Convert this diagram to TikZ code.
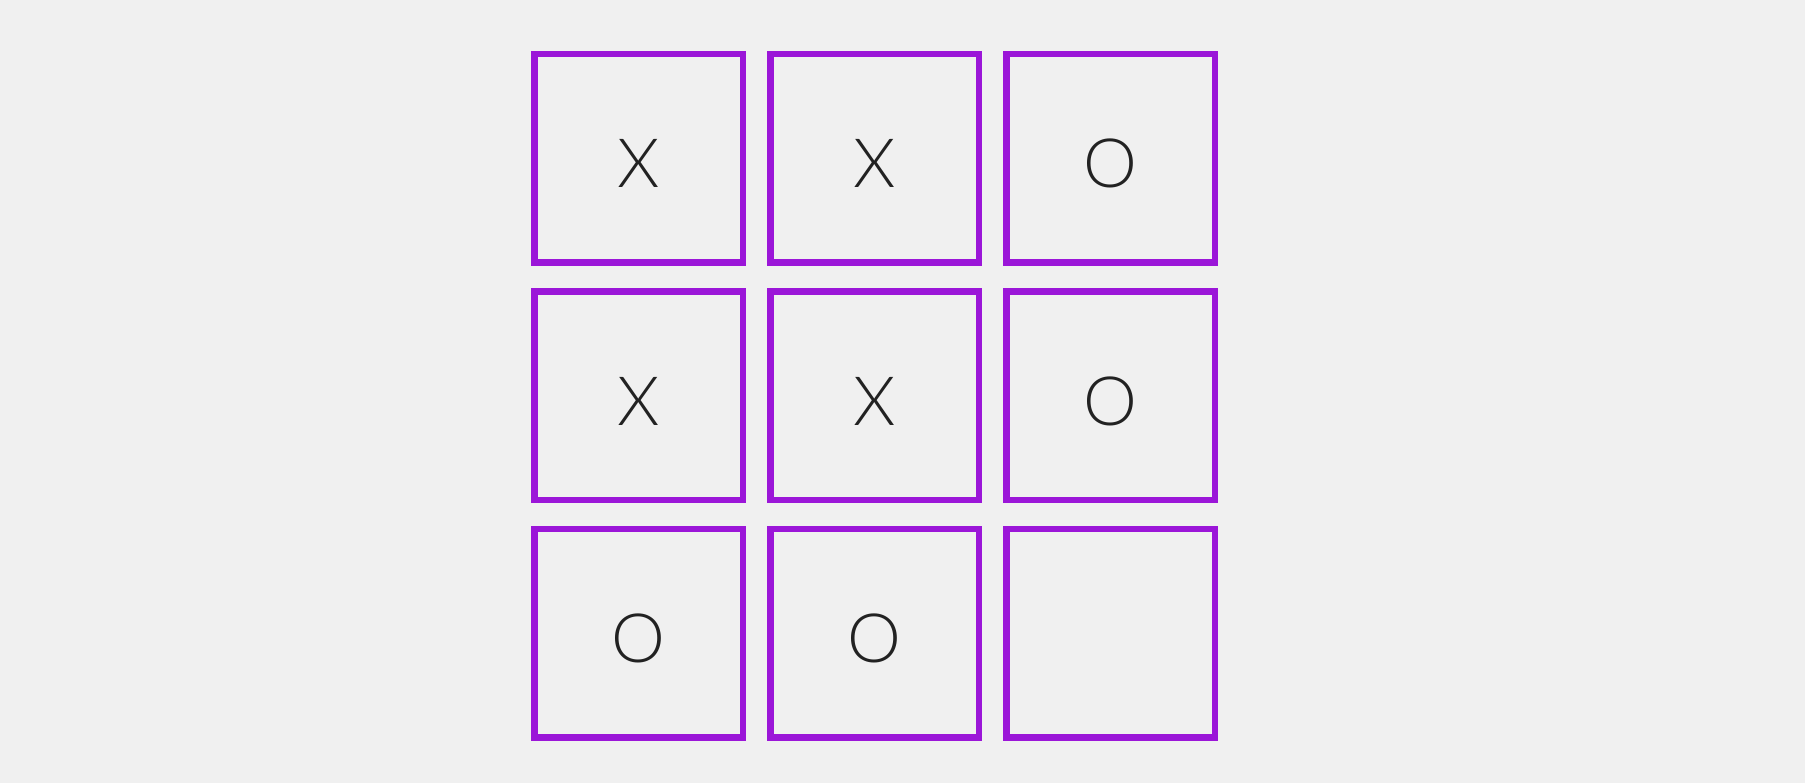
\documentclass[tikz,border=0pt]{standalone}
\usepackage{fontspec}
\setmainfont{Lato}[UprightFont=* Light]
\definecolor{bg}{HTML}{F0F0F0}
\definecolor{cellpurple}{HTML}{9B16D8}
\definecolor{mark}{HTML}{222222}
\begin{document}
\begin{tikzpicture}[x=1pt,y=1pt,
  cell/.style={draw=cellpurple, line width=6.5pt, minimum size=208.5pt, inner sep=0pt,
    text height=59pt, text depth=0pt, text=mark, font=\fontsize{68}{68}\selectfont}]
\fill[bg] (0,0) rectangle (1805,783);
\useasboundingbox (0,0) rectangle (1805,783);
% rows: image y centres 158.5, 396, 633.5 -> tikz y = 783 - y
\node[cell] (c11) at (638.5,624.5) {X};
\node[cell] (c12) at (874.5,624.5) {X};
\node[cell] (c13) at (1110.5,624.5) {O};
\node[cell] (c21) at (638.5,387) {X};
\node[cell] (c22) at (874.5,387) {X};
\node[cell] (c23) at (1110.5,387) {O};
\node[cell] (c31) at (638.5,149.5) {O};
\node[cell] (c32) at (874.5,149.5) {O};
\node[cell] (c33) at (1110.5,149.5) {};
\end{tikzpicture}
\end{document}
